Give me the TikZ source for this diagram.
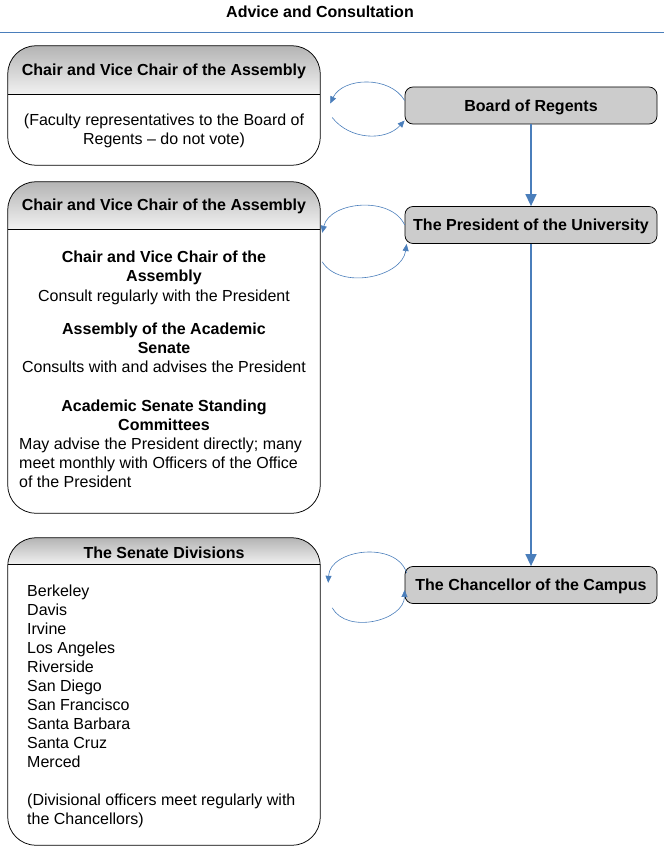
\documentclass[tikz,border=0pt]{standalone}
\usepackage{fontspec}
\setmainfont{Liberation Sans}
\usetikzlibrary{arrows.meta, positioning}
\definecolor{linkblue}{HTML}{4A7EBB}
\definecolor{headtop}{HTML}{B4B4B4}
\definecolor{headbottom}{HTML}{F2F2F2}
\newcommand\diagfont{\fontsize{16}{19}\selectfont}
\newcommand\panelhead[2]{%
    \begin{scope}
        \clip[rounded corners=28] (#1.south west) rectangle (#1.north east);
        \shade[top color=headtop, bottom color=headbottom] (#1.north west) rectangle ([yshift=-#2]#1.north east);
    \end{scope}
    \draw[line width=0.75pt] ([yshift=-#2]#1.north west) -- ([yshift=-#2]#1.north east);
    \draw[line width=0.75pt, rounded corners=28] (#1.south west) rectangle (#1.north east);
}
\tikzset{
    panel/.style={minimum width=312, inner sep=0},
    office/.style={draw, line width=0.75pt, fill=black!20, rounded corners=8, minimum width=252, minimum height=37, inner sep=0, text height=13, text depth=1.5, font=\diagfont\bfseries},
    head/.style={font=\diagfont\bfseries, yshift=-2},
    body/.style={font=\diagfont, align=center, inner sep=0, yshift=-2},
    chain/.style={draw=linkblue, line width=1.4pt, -{Triangle[length=12,width=11]}},
    loop/.style={draw=linkblue, line width=0.6pt, -{Triangle[length=7,width=6]}},
}
\begin{document}
\begin{tikzpicture}[x=1pt, y=1pt]
    \useasboundingbox (0,0) rectangle (664,-856);
    \node[head, yshift=2] (title) at (320,-12) {Advice and Consultation};
    \draw[linkblue, line width=1pt] (0,-33) -- (664,-33);

    % left column
    \node[panel, minimum height=119] (faculty) at (164,-105.5) {};
    \panelhead{faculty}{49}
    \node[head] (facultyhead) at (164,-69) {Chair and Vice Chair of the Assembly};
    \node[body] (facultytext) at (164,-128.5) {(Faculty representatives to the Board of\\Regents -- do not vote)};

    \node[panel, minimum height=331] (officers) at (164,-347.5) {};
    \panelhead{officers}{48}
    \node[head] (officershead) at (164,-204) {Chair and Vice Chair of the Assembly};
    \node[body, font=\diagfont\bfseries] (chairs) at (164,-265.5) {Chair and Vice Chair of the\\Assembly};
    \node[body] (chairsnote) at (164,-295) {Consult regularly with the President};
    \node[body, font=\diagfont\bfseries] (assembly) at (164,-336.5) {Assembly of the Academic\\Senate};
    \node[body] (assemblynote) at (164,-365) {Consults with and advises the President};
    \node[body, font=\diagfont\bfseries] (committees) at (164,-413.5) {Academic Senate Standing\\Committees};
    \node[body, align=left, anchor=west] (committeesnote) at (19,-461) {May advise the President directly; many\\meet monthly with Officers of the Office\\of the President};

    \node[panel, minimum height=307] (divisions) at (164,-691.5) {};
    \panelhead{divisions}{27}
    \node[head] (divisionshead) at (164,-551) {The Senate Divisions};
    \node[body, align=left, anchor=west] (campuses) at (27,-704) {Berkeley\\Davis\\Irvine\\Los Angeles\\Riverside\\San Diego\\San Francisco\\Santa Barbara\\Santa Cruz\\Merced\\[19pt](Divisional officers meet regularly with\\the Chancellors)};

    % right column
    \node[office] (regents) at (531,-105.5) {Board of Regents};
    \node[office] (president) at (531,-225) {The President of the University};
    \node[office] (chancellor) at (531,-585) {The Chancellor of the Campus};

    \draw[chain] (regents) -- (president);
    \draw[chain] (president) -- (chancellor);

    \draw[loop] ([yshift=5]regents.west) to[bend right=62] ([xshift=10,yshift=2]faculty.east);
    \draw[loop] ([xshift=12,yshift=-12]faculty.east) to[bend right=50] ([yshift=-15]regents.west);
    \draw[loop] (president.west) to[bend right=71] ([xshift=2,yshift=-51]officers.north east);
    \draw[loop] ([xshift=2,yshift=-80]officers.north east) to[bend right=70] ([xshift=2,yshift=-19]president.west);
    \draw[loop] ([xshift=2,yshift=12]chancellor.west) to[bend right=80, looseness=1.1] ([xshift=8,yshift=-45]divisions.north east);
    \draw[loop] ([xshift=12,yshift=-70]divisions.north east) to[bend right=75, looseness=1.05] ([yshift=-5]chancellor.west);
\end{tikzpicture}
\end{document}
